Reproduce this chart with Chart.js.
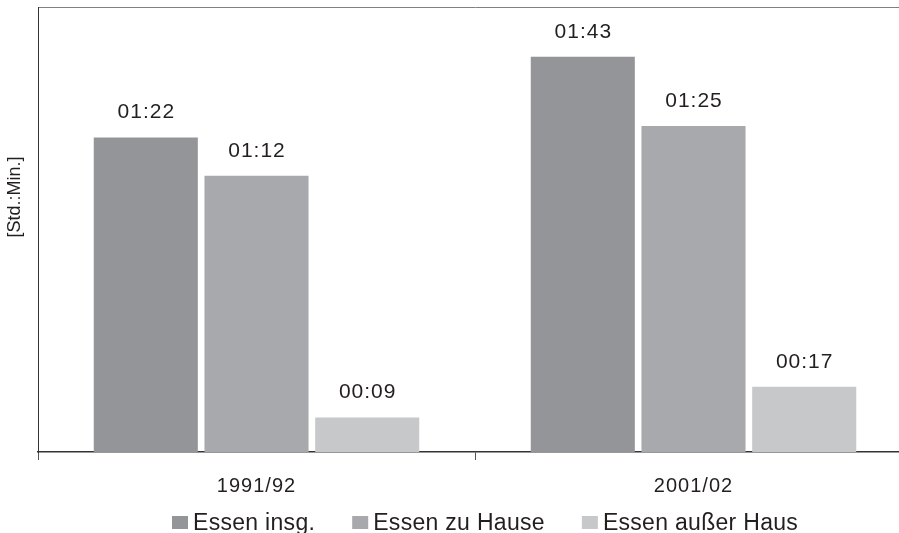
<!DOCTYPE html>
<html>
<head>
<meta charset="utf-8">
<script src="https://cdn.jsdelivr.net/npm/chart.js@4"></script>
<style>
  html, body { margin: 0; padding: 0; background: #fff; overflow: hidden; }
</style>
</head>
<body>
<canvas id="myChart" width="912" height="533"></canvas>
<script>
// values in minutes
var categories = ["1991/92", "2001/02"];
var seriesNames = ["Essen insg.", "Essen zu Hause", "Essen außer Haus"];
var essenInsg = [82, 103];
var essenZuHause = [72, 85];
var essenAusserHaus = [9, 17];
var barColors = ["#939598", "#a7a9ac", "#c7c8ca"];
var yTitle = "[Std.:Min.]";

var FONT = '"Liberation Sans", Arial, sans-serif';
var TEXT = "#231f20";

function hhmm(min) {
  var h = Math.floor(min / 60);
  var m = min % 60;
  return (h < 10 ? "0" : "") + h + ":" + (m < 10 ? "0" : "") + m;
}

// hh:mm above each bar
const valueLabels = {
  id: "valueLabels",
  afterDatasetsDraw(chart) {
    const ctx = chart.ctx;
    ctx.save();
    ctx.font = "21px " + FONT;
    ctx.letterSpacing = "1px";
    ctx.fillStyle = TEXT;
    ctx.textAlign = "center";
    ctx.textBaseline = "alphabetic";
    chart.data.datasets.forEach(function (ds, i) {
      chart.getDatasetMeta(i).data.forEach(function (bar, j) {
        ctx.fillText(hhmm(ds.data[j]), bar.x + 0.5, bar.y - 19);
      });
    });
    ctx.restore();
  }
};

// rotated axis title, legend row at the bottom
const extras = {
  id: "extras",
  beforeDraw(chart) {
    chart.ctx.letterSpacing = "1px";
  },
  afterDraw(chart) {
    const ctx = chart.ctx;
    const area = chart.chartArea;
    ctx.save();
    ctx.letterSpacing = "0px";
    ctx.fillStyle = TEXT;
    ctx.font = "18px " + FONT;
    ctx.translate(area.left - 23, area.top + 190);
    ctx.rotate(-Math.PI / 2);
    ctx.textAlign = "center";
    ctx.textBaseline = "middle";
    ctx.fillText(yTitle, 0, 0);
    ctx.restore();

    ctx.save();
    ctx.letterSpacing = "0.3px";
    ctx.font = "23px " + FONT;
    ctx.textBaseline = "alphabetic";
    ctx.textAlign = "left";
    var x = area.left + 134;
    var base = chart.height - 3;
    chart.data.datasets.forEach(function (ds) {
      ctx.fillStyle = ds.backgroundColor;
      ctx.fillRect(x, base - 14, 16, 13);
      ctx.fillStyle = TEXT;
      ctx.fillText(ds.label, x + 21, base);
      x += 21 + ctx.measureText(ds.label).width + 37;
    });
    ctx.restore();
  }
};

const ctx = document.getElementById("myChart");
const data = {
  labels: categories,
  datasets: [
    { label: seriesNames[0], data: essenInsg, backgroundColor: barColors[0] },
    { label: seriesNames[1], data: essenZuHause, backgroundColor: barColors[1] },
    { label: seriesNames[2], data: essenAusserHaus, backgroundColor: barColors[2] }
  ]
};

const config = {
  type: "bar",
  data: data,
  options: {
    responsive: false,
    animation: false,
    categoryPercentage: 0.76,
    barPercentage: 0.94,
    layout: { padding: { left: 38, top: 7, right: 0, bottom: 21 } },
    plugins: {
      legend: { display: false },
      tooltip: { enabled: false }
    },
    scales: {
      x: {
        position: "bottom",
        grid: { display: true, drawOnChartArea: false, drawTicks: true, tickLength: 8, color: "#555", offset: true },
        border: { display: true, color: "#333", width: 1.5 },
        ticks: { color: TEXT, font: { family: FONT, size: 20 }, padding: 14 }
      },
      xTop: {
        type: "category",
        axis: "x",
        position: "top",
        grid: { display: false, drawTicks: false },
        ticks: { display: false },
        border: { display: true, color: "#808080", width: 1 }
      },
      y: {
        min: 0,
        max: 116,
        grid: { display: false, drawTicks: false },
        ticks: { display: false },
        border: { display: true, color: "#333", width: 1 }
      }
    }
  },
  plugins: [valueLabels, extras]
};

const myChart = new Chart(ctx, config);
</script>
</body>
</html>
